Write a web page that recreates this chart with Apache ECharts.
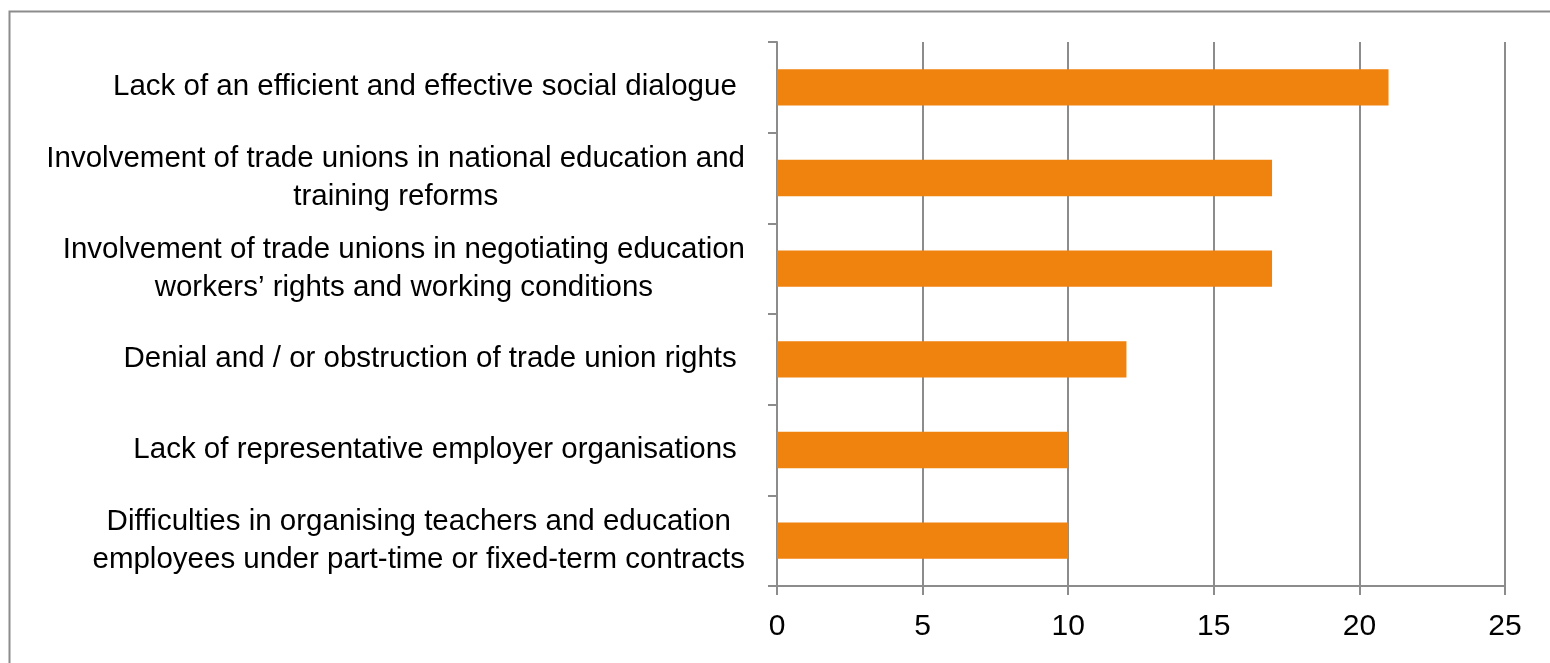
<!DOCTYPE html>
<html>
<head>
<meta charset="utf-8">
<script src="https://cdn.jsdelivr.net/npm/echarts@6/dist/echarts.min.js"></script>
<style>
  html, body { margin: 0; padding: 0; background: #ffffff; }
  #chart { width: 1550px; height: 663px; }
</style>
</head>
<body>
<div id="chart"></div>
<script>
// ---- Data ----
const categories = [
  "Lack of an efficient and effective social dialogue ",
  "Involvement of trade unions in national education and\ntraining reforms",
  "Involvement of trade unions in negotiating education\nworkers\u2019 rights and working conditions",
  "Denial and / or obstruction of trade union rights ",
  "Lack of representative employer organisations ",
  "Difficulties in organising teachers and education\nemployees under part-time or fixed-term contracts"
];
const values = [21, 17, 17, 12, 10, 10];
const xTicks = [0, 5, 10, 15, 20, 25];

// ---- Chart ----
const FONT = "'Liberation Sans', Arial, sans-serif";
const chart = echarts.init(document.getElementById('chart'), null, { renderer: 'canvas' });

const option = {
  animation: false,
  backgroundColor: '#ffffff',
  textStyle: { fontFamily: FONT },
  graphic: [
    {
      type: 'rect',
      shape: { x: 9.5, y: 11.5, width: 1600, height: 700 },
      style: { fill: 'none', stroke: '#8c8c8c', lineWidth: 2 },
      silent: true,
      z: -1
    }
  ],
  grid: { left: 777, right: 45, top: 42, bottom: 77, containLabel: false },
  xAxis: {
    type: 'value',
    min: xTicks[0],
    max: xTicks[xTicks.length - 1],
    interval: xTicks[1] - xTicks[0],
    axisLine: { show: true, lineStyle: { color: '#8c8c8c', width: 2 } },
    axisTick: { show: true, length: 9, lineStyle: { color: '#8c8c8c', width: 2 } },
    splitLine: { show: true, lineStyle: { color: '#8c8c8c', width: 2 } },
    axisLabel: {
      color: '#000000',
      fontFamily: FONT,
      fontSize: 30,
      margin: 26,
      formatter: function (v) { return String(v); }
    }
  },
  yAxis: {
    type: 'category',
    inverse: true,
    data: categories,
    axisLine: { show: true, lineStyle: { color: '#8c8c8c', width: 2 } },
    axisTick: { show: true, length: 9, alignWithLabel: false, lineStyle: { color: '#8c8c8c', width: 2 } },
    splitLine: { show: false },
    axisLabel: {
      color: '#000000',
      fontFamily: FONT,
      fontSize: 29.5,
      lineHeight: 38,
      margin: 32,
      align: 'right',
      formatter: function (v) {
        return v.split('\n').map(function (l) { return '{c|' + l + '}'; }).join('\n');
      },
      rich: {
        c: { align: 'center', color: '#000000', fontFamily: FONT, fontSize: 29.5, lineHeight: 38 }
      }
    }
  },
  series: [
    {
      type: 'bar',
      data: values,
      barWidth: '40%',
      itemStyle: { color: '#F0820E' },
      z: 3
    }
  ]
};
chart.setOption(option);
</script>
</body>
</html>
